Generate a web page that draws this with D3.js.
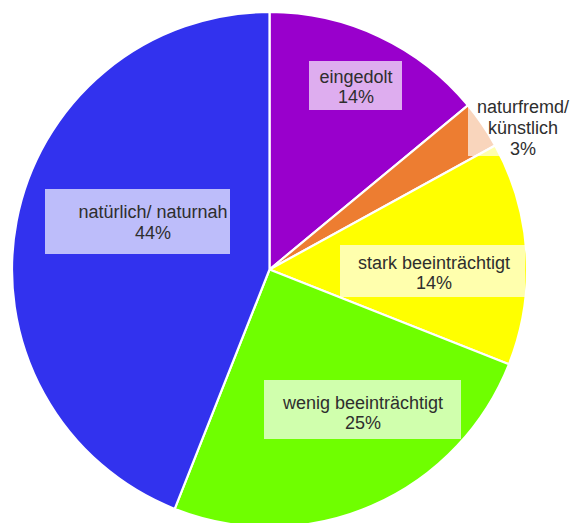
<!DOCTYPE html>
<html>
<head>
<meta charset="utf-8">
<script src="https://cdn.jsdelivr.net/npm/d3@7"></script>
<style>
  html, body { margin: 0; padding: 0; background: #ffffff; }
  svg { display: block; }
  text { font-family: "Liberation Sans", Arial, sans-serif; }
</style>
</head>
<body>
<svg id="chart" width="574" height="523"></svg>
<script>
// Zustand der Gewässerstrecken (Anteile in %)
const categories = ["eingedolt", "naturfremd/ künstlich", "stark beeinträchtigt", "wenig beeinträchtigt", "natürlich/ naturnah"];
const shares = [14, 3, 14, 25, 44];
const labelLines = [
  ["eingedolt", "14%"],
  ["naturfremd/", "künstlich", "3%"],
  ["stark beeinträchtigt", "14%"],
  ["wenig beeinträchtigt", "25%"],
  ["natürlich/ naturnah", "44%"]
];
const colors = ["#9900cc", "#ed7d31", "#ffff00", "#6fff00", "#3232ee"];

const svg = d3.select("#chart");
const cx = 269.5, cy = 269.5, R = 257.5;

const pie = d3.pie().sort(null).value(d => d)(shares);
const arc = d3.arc().innerRadius(0).outerRadius(R);

const g = svg.append("g").attr("transform", `translate(${cx},${cy})`);

g.selectAll("path.slice")
  .data(pie)
  .join("path")
  .attr("class", "slice")
  .attr("d", arc)
  .attr("fill", (d, i) => colors[i])
  .attr("stroke", "#ffffff")
  .attr("stroke-width", 2.2)
  .attr("stroke-linejoin", "round");

// Label placement: box (relative to pie centre) and text line centres
const labelLayout = [
  { box: [39.5, -208.5, 93, 49], cx: 86.5, lines: [-192.5, -172.5] },
  { box: [198.5, -173.5, 106, 60], cx: 253.5, lines: [-162.5, -141.5, -120.5] },
  { box: [70.5, -24.5, 185, 52], cx: 164.5, lines: [-6.5, 13.5] },
  { box: [-5.5, 110.5, 197, 59], cx: 93.5, lines: [133.5, 153.5] },
  { box: [-224.5, -80.5, 185, 65], cx: -116.5, lines: [-57.5, -36.5] }
];

const labels = g.selectAll("g.label")
  .data(pie)
  .join("g")
  .attr("class", "label");

labels.append("rect")
  .attr("x", (d, i) => labelLayout[i].box[0])
  .attr("y", (d, i) => labelLayout[i].box[1])
  .attr("width", (d, i) => labelLayout[i].box[2])
  .attr("height", (d, i) => labelLayout[i].box[3])
  .attr("fill", "#ffffff")
  .attr("fill-opacity", 0.68);

labels.each(function(d, i) {
  const L = labelLayout[i];
  d3.select(this).selectAll("text")
    .data(labelLines[i])
    .join("text")
    .attr("x", L.cx)
    .attr("y", (t, j) => L.lines[j])
    .attr("text-anchor", "middle")
    .attr("dominant-baseline", "central")
    .attr("font-size", 18)
    .attr("fill", "#2e2e2e")
    .text(t => t);
});
</script>
</body>
</html>
